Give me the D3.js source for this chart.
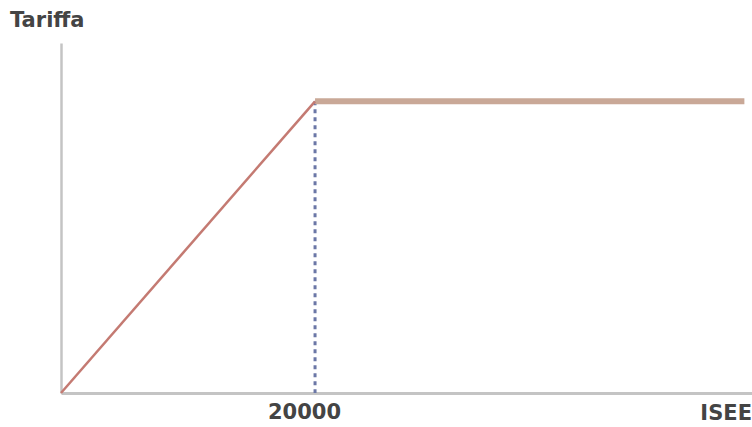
<!DOCTYPE html>
<html>
<head>
<meta charset="utf-8">
<script src="https://cdn.jsdelivr.net/npm/d3@7"></script>
<style>
  body { margin: 0; background: #fff; }
  text { font-family: "DejaVu Sans", sans-serif; font-weight: bold; fill: #444; }
</style>
</head>
<body>
<svg width="752" height="427"></svg>
<script>
// tariff as a function of ISEE
var isee = [0, 20000, 53800];
var tariffa = [0, 1, 1];
var xTicks = [20000];
var threshold = 20000;

var svg = d3.select("svg"),
    width = +svg.attr("width"),
    height = +svg.attr("height");

var x = d3.scaleLinear().domain([0, 54400]).range([61, 752]);
var y = d3.scaleLinear().domain([0, 1.2]).range([393, 43]);

var pts = isee.map(function(d, i) { return [d, tariffa[i]]; });

// axes
var xAxis = svg.append("g")
    .attr("transform", "translate(0," + y(0) + ")")
    .call(d3.axisBottom(x).tickValues(xTicks).tickSize(0).tickPadding(11).tickFormat(d3.format("d")));
xAxis.select(".domain").attr("stroke", "#c4c4c4").attr("stroke-width", 3);
xAxis.selectAll("text").attr("font-size", 21).attr("fill", "#444").attr("dx", -11)
    .style("font-family", "DejaVu Sans").style("font-weight", "bold");

var yAxis = svg.append("g")
    .attr("transform", "translate(" + x(0) + ",0)")
    .call(d3.axisLeft(y).tickValues([]).tickSize(0));
yAxis.select(".domain").attr("stroke", "#c4c4c4").attr("stroke-width", 2.5);

// dashed threshold line
svg.append("line")
    .attr("x1", x(threshold)).attr("x2", x(threshold))
    .attr("y1", y(tariffa[1])).attr("y2", y(0))
    .attr("stroke", "#6b77a6")
    .attr("stroke-width", 3)
    .attr("stroke-dasharray", "4,4");

// flat part
svg.append("path")
    .datum(pts.slice(1))
    .attr("d", d3.line().x(function(d) { return x(d[0]); }).y(function(d) { return y(d[1]); }))
    .attr("fill", "none")
    .attr("stroke", "#c9a897")
    .attr("stroke-width", 6);

// rising part
svg.append("path")
    .datum(pts.slice(0, 2))
    .attr("d", d3.line().x(function(d) { return x(d[0]); }).y(function(d) { return y(d[1]); }))
    .attr("fill", "none")
    .attr("stroke", "#c47a72")
    .attr("stroke-width", 2.5);

// axis titles
svg.append("text").attr("x", 10).attr("y", 27).attr("font-size", 21).text("Tariffa");
svg.append("text").attr("x", 752).attr("y", 420).attr("font-size", 21)
    .attr("text-anchor", "end").text("ISEE");
</script>
</body>
</html>
